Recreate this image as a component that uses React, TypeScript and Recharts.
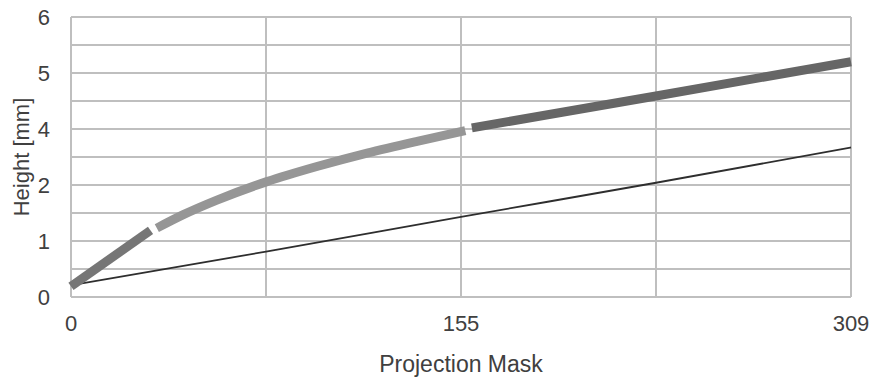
import React from 'react';
import { LineChart, Line, XAxis, YAxis, CartesianGrid } from 'recharts';

// x positions of the vertical grid and their labels (only 0, 155, 309 labelled)
const xTicks = [0, 77.25, 154.5, 231.75, 309];
const xTickLabels = ['0', '', '155', '', '309'];

// horizontal grid every half step; labels printed as in the source figure
const yTicks = [0, 0.5, 1, 1.5, 2, 2.5, 3, 3.5, 4, 4.5, 5];
const yTickLabels = ['0', '', '1', '', '2', '', '4', '', '5', '', '6'];

// thick curve, split in three parts
const startPart = [
  { x: 0, y: 0.19 },
  { x: 31.5, y: 1.19 },
];

const middlePart = [
  { x: 34.0, y: 1.23 },
  { x: 44.5, y: 1.47 },
  { x: 57.8, y: 1.73 },
  { x: 77.6, y: 2.06 },
  { x: 97.4, y: 2.33 },
  { x: 117.3, y: 2.57 },
  { x: 137.1, y: 2.78 },
  { x: 156.2, y: 2.97 },
];

const endPart = [
  { x: 158.8, y: 3.02 },
  { x: 231.75, y: 3.59 },
  { x: 309, y: 4.2 },
];

// thin reference line
const thinLine = [
  { x: 0, y: 0.21 },
  { x: 77.25, y: 0.81 },
  { x: 154.5, y: 1.43 },
  { x: 231.75, y: 2.04 },
  { x: 309, y: 2.67 },
];

const font = '"Liberation Sans", Arial, sans-serif';
const textColor = '#404040';

const App = () => {
  return (
    <div style={{ position: 'absolute', left: 0, top: 0, background: '#fff' }}>
      <LineChart
        width={872}
        height={381}
        margin={{ top: 17, right: 21, left: 0, bottom: 0 }}
        style={{ fontFamily: font }}
      >
        <CartesianGrid stroke="#bfbfbf" strokeWidth={2} />
        <XAxis
          type="number"
          dataKey="x"
          domain={[0, 309]}
          ticks={xTicks}
          interval={0}
          height={84}
          axisLine={false}
          tickLine={false}
          tickSize={0}
          tickMargin={18}
          tick={{ fill: textColor, fontSize: 22 }}
          tickFormatter={(_v: number, i: number) => xTickLabels[i]}
          label={{ value: 'Projection Mask', position: 'insideBottom', offset: 9, fill: textColor, fontSize: 23 }}
        />
        <YAxis
          type="number"
          domain={[0, 5]}
          ticks={yTicks}
          interval={0}
          width={71}
          axisLine={false}
          tickLine={false}
          tickSize={0}
          tickMargin={21}
          tick={{ fill: textColor, fontSize: 22 }}
          tickFormatter={(_v: number, i: number) => yTickLabels[i]}
          label={{
            value: 'Height [mm]',
            angle: -90,
            position: 'insideLeft',
            offset: 21,
            fill: textColor,
            fontSize: 22,
            style: { textAnchor: 'middle' },
          }}
        />
        <Line data={thinLine} dataKey="y" type="monotone" stroke="#2e2e2e" strokeWidth={1.8} dot={false} isAnimationActive={false} />
        <Line data={startPart} dataKey="y" type="linear" stroke="#767676" strokeWidth={9} dot={false} isAnimationActive={false} />
        <Line data={middlePart} dataKey="y" type="monotone" stroke="#969696" strokeWidth={9} dot={false} isAnimationActive={false} />
        <Line data={endPart} dataKey="y" type="linear" stroke="#666666" strokeWidth={9} dot={false} isAnimationActive={false} />
      </LineChart>
    </div>
  );
};

export default App;
